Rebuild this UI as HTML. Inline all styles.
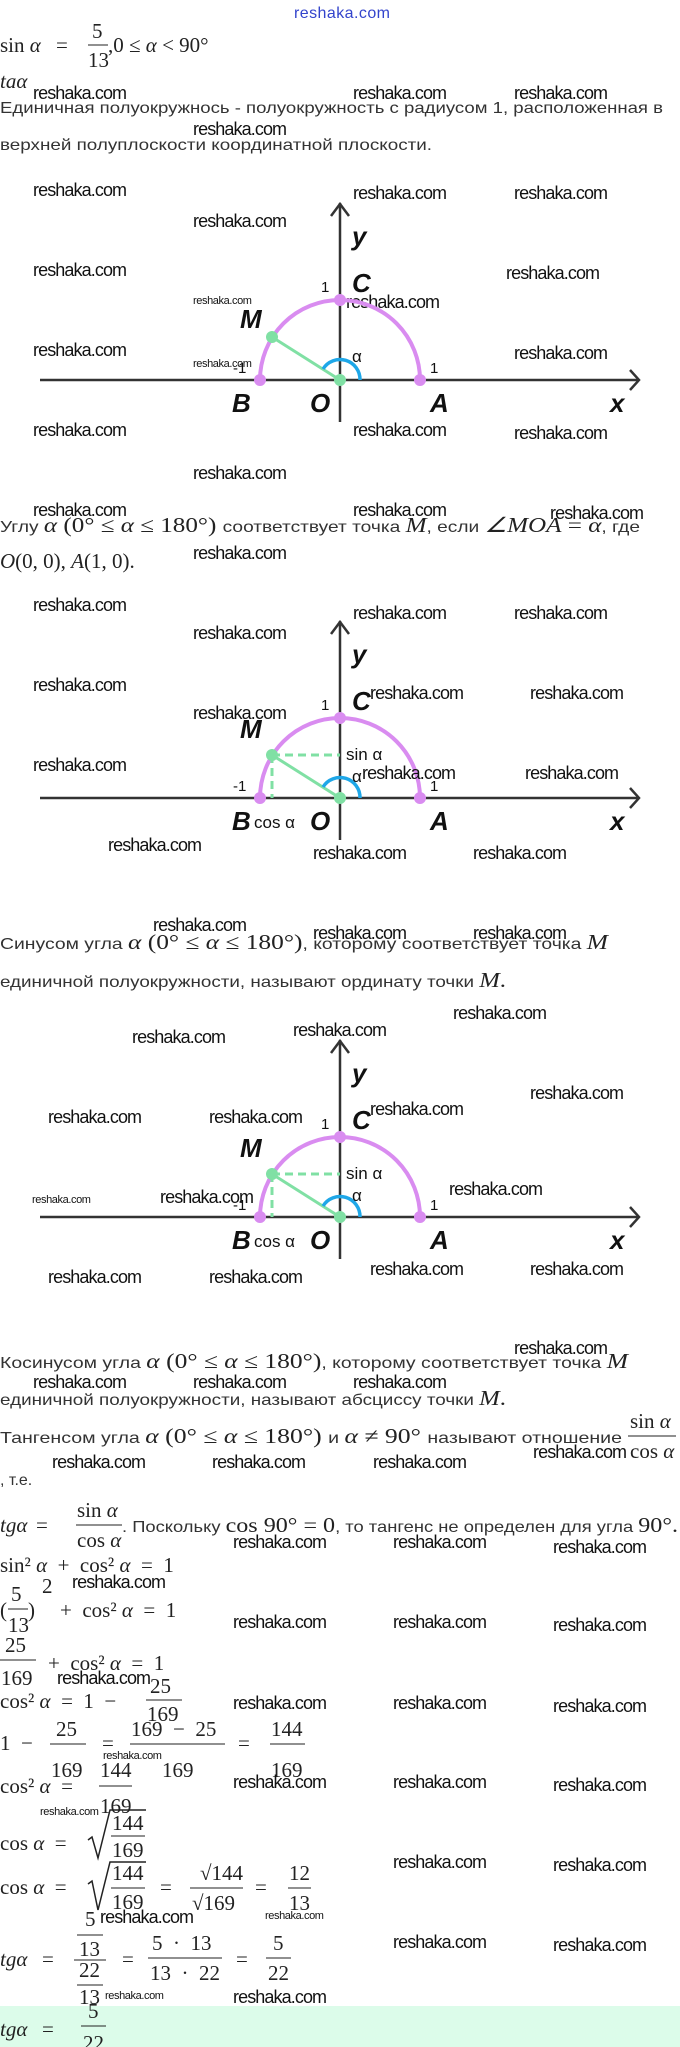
<!DOCTYPE html>
<html><head><meta charset="utf-8"><style>
html,body{margin:0;padding:0;background:#fff;width:680px;height:2047px;overflow:hidden}
svg{display:block}
.w{font-family:"Liberation Sans",sans-serif;font-size:18px;fill:#111;letter-spacing:-0.9px}
.ws{font-family:"Liberation Sans",sans-serif;font-size:11px;fill:#111;letter-spacing:-0.4px}
.t{font-family:"Liberation Sans",sans-serif;font-size:16px;fill:#333}
.m{font-family:"Liberation Serif",serif;font-size:21px;fill:#222}
.i{font-style:italic}
.L{font-family:"Liberation Sans",sans-serif;font-style:italic;font-weight:bold;font-size:26px;fill:#111}
.n{font-family:"Liberation Sans",sans-serif;font-size:15px;fill:#111}
.s{font-family:"Liberation Sans",sans-serif;font-size:17px;fill:#111}
</style></head><body>
<svg width="680" height="2047" viewBox="0 0 680 2047" xmlns="http://www.w3.org/2000/svg">
<rect x="0" y="2006" width="680" height="41" fill="#dcfcea"/>
<text x="294" y="18" font-family="Liberation Sans,sans-serif" font-size="16" fill="#3344cc" textLength="96">reshaka.com</text>

<text class="m" x="0" y="52">sin <tspan class="i">α</tspan></text>
<text class="m" x="56" y="52">=</text>
<text class="m" x="92" y="38">5</text><line x1="88" y1="45" x2="108" y2="45" stroke="#222"/><text class="m" x="88" y="67">13</text>
<text class="m" x="108" y="52">,0 ≤  <tspan class="i">α</tspan>  &lt;  90°</text>
<text class="m i" x="0" y="88">taα</text>

<text class="t" x="0" y="113" textLength="663" lengthAdjust="spacingAndGlyphs">Единичная полуокружнось - полуокружность с радиусом 1, расположенная в</text>
<text class="t" x="0" y="150" textLength="432" lengthAdjust="spacingAndGlyphs">верхней полуплоскости координатной плоскости.</text>

<g>
<text class="w" x="33" y="99">reshaka.com</text><text class="w" x="353" y="99">reshaka.com</text><text class="w" x="514" y="99">reshaka.com</text>
<text class="w" x="193" y="135">reshaka.com</text>
<text class="w" x="33" y="196">reshaka.com</text><text class="w" x="353" y="199">reshaka.com</text><text class="w" x="514" y="199">reshaka.com</text>
<text class="w" x="193" y="227">reshaka.com</text>
<text class="w" x="33" y="276">reshaka.com</text><text class="w" x="506" y="279">reshaka.com</text>
<text class="ws" x="193" y="304">reshaka.com</text><text class="w" x="346" y="308">reshaka.com</text>
<text class="w" x="33" y="356">reshaka.com</text><text class="w" x="514" y="359">reshaka.com</text>
<text class="ws" x="193" y="367">reshaka.com</text>
<text class="w" x="33" y="436">reshaka.com</text><text class="w" x="353" y="436">reshaka.com</text><text class="w" x="514" y="439">reshaka.com</text>
<text class="w" x="193" y="479">reshaka.com</text>
</g>

<g>
<line x1="340" y1="203" x2="340" y2="422" stroke="#333" stroke-width="2.5"/>
<polyline points="331,216 340,204 349,216" fill="none" stroke="#333" stroke-width="2.5"/>
<line x1="40" y1="380" x2="639" y2="380" stroke="#333" stroke-width="2.5"/>
<polyline points="630,370 639,380 630,390" fill="none" stroke="#333" stroke-width="2.5"/>
<path d="M260,380 A80,80 0 0 1 420,380" fill="none" stroke="#d98cf0" stroke-width="4"/>
<line x1="340" y1="380" x2="272" y2="337" stroke="#80e0a4" stroke-width="3"/>
<path d="M360,380 A20,20 0 0 0 323,369" fill="none" stroke="#1ea7e8" stroke-width="3.5"/>
<circle cx="260" cy="380" r="6" fill="#d98cf0"/><circle cx="420" cy="380" r="6" fill="#d98cf0"/><circle cx="340" cy="300" r="6" fill="#d98cf0"/>
<circle cx="272" cy="337" r="6" fill="#80e0a4"/><circle cx="340" cy="380" r="6" fill="#80e0a4"/>
<text class="L" x="352" y="245">y</text><text class="L" x="352" y="292">C</text><text class="n" x="321" y="292">1</text>
<text class="L" x="240" y="328">M</text><text class="n" x="233" y="373">-1</text><text class="n" x="430" y="373">1</text>
<text class="s" x="352" y="362">α</text>
<text class="L" x="232" y="412">B</text><text class="L" x="310" y="412">O</text><text class="L" x="430" y="412">A</text><text class="L" x="610" y="412">x</text>
</g>

<text x="0" y="532" textLength="640" lengthAdjust="spacingAndGlyphs"><tspan class="t">Углу </tspan><tspan class="m i">α</tspan><tspan class="m"> (0°  ≤  </tspan><tspan class="m i">α</tspan><tspan class="m">  ≤  180°) </tspan><tspan class="t">соответствует точка </tspan><tspan class="m i">M</tspan><tspan class="t">, если </tspan><tspan class="m i">∠MOA</tspan><tspan class="m">  =  </tspan><tspan class="m i">α</tspan><tspan class="t">, где</tspan></text>
<text class="m" x="0" y="568"><tspan class="i">O</tspan>(0, 0), <tspan class="i">A</tspan>(1, 0).</text>
<text class="w" x="33" y="516">reshaka.com</text><text class="w" x="353" y="516">reshaka.com</text><text class="w" x="550" y="519">reshaka.com</text>
<text class="w" x="193" y="559">reshaka.com</text>

<g transform="translate(0,418)">
<line x1="340" y1="203" x2="340" y2="422" stroke="#333" stroke-width="2.5"/>
<polyline points="331,216 340,204 349,216" fill="none" stroke="#333" stroke-width="2.5"/>
<line x1="40" y1="380" x2="639" y2="380" stroke="#333" stroke-width="2.5"/>
<polyline points="630,370 639,380 630,390" fill="none" stroke="#333" stroke-width="2.5"/>
<path d="M260,380 A80,80 0 0 1 420,380" fill="none" stroke="#d98cf0" stroke-width="4"/>
<line x1="272" y1="337" x2="340" y2="337" stroke="#80e0a4" stroke-width="3" stroke-dasharray="8,5"/>
<line x1="272" y1="337" x2="272" y2="380" stroke="#80e0a4" stroke-width="3" stroke-dasharray="8,5"/>
<line x1="340" y1="380" x2="272" y2="337" stroke="#80e0a4" stroke-width="3"/>
<path d="M360,380 A20,20 0 0 0 323,369" fill="none" stroke="#1ea7e8" stroke-width="3.5"/>
<circle cx="260" cy="380" r="6" fill="#d98cf0"/><circle cx="420" cy="380" r="6" fill="#d98cf0"/><circle cx="340" cy="300" r="6" fill="#d98cf0"/>
<circle cx="272" cy="337" r="6" fill="#80e0a4"/><circle cx="340" cy="380" r="6" fill="#80e0a4"/>
<text class="L" x="352" y="245">y</text><text class="L" x="352" y="292">C</text><text class="n" x="321" y="292">1</text>
<text class="L" x="240" y="320">M</text><text class="n" x="233" y="373">-1</text><text class="n" x="430" y="373">1</text>
<text class="s" x="346" y="342">sin α</text><text class="s" x="352" y="364">α</text>
<text class="L" x="232" y="412">B</text><text class="s" x="254" y="410">cos α</text><text class="L" x="310" y="412">O</text><text class="L" x="430" y="412">A</text><text class="L" x="610" y="412">x</text>
</g>
<text class="w" x="33" y="611">reshaka.com</text><text class="w" x="353" y="619">reshaka.com</text><text class="w" x="514" y="619">reshaka.com</text>
<text class="w" x="193" y="639">reshaka.com</text>
<text class="w" x="33" y="691">reshaka.com</text><text class="w" x="370" y="699">reshaka.com</text><text class="w" x="530" y="699">reshaka.com</text>
<text class="w" x="193" y="719">reshaka.com</text>
<text class="w" x="33" y="771">reshaka.com</text><text class="w" x="362" y="779">reshaka.com</text><text class="w" x="525" y="779">reshaka.com</text>
<text class="w" x="108" y="851">reshaka.com</text><text class="w" x="313" y="859">reshaka.com</text><text class="w" x="473" y="859">reshaka.com</text>

<text x="0" y="949" textLength="608" lengthAdjust="spacingAndGlyphs"><tspan class="t">Синусом угла </tspan><tspan class="m i">α</tspan><tspan class="m"> (0°  ≤  </tspan><tspan class="m i">α</tspan><tspan class="m">  ≤  180°)</tspan><tspan class="t">, которому соответствует точка </tspan><tspan class="m i">M</tspan></text>
<text x="0" y="987" textLength="506" lengthAdjust="spacingAndGlyphs"><tspan class="t">единичной полуокружности, называют ординату точки </tspan><tspan class="m i">M</tspan><tspan class="m">.</tspan></text>
<text class="w" x="153" y="931">reshaka.com</text><text class="w" x="313" y="939">reshaka.com</text><text class="w" x="473" y="939">reshaka.com</text>

<g transform="translate(0,837)">
<line x1="340" y1="203" x2="340" y2="422" stroke="#333" stroke-width="2.5"/>
<polyline points="331,216 340,204 349,216" fill="none" stroke="#333" stroke-width="2.5"/>
<line x1="40" y1="380" x2="639" y2="380" stroke="#333" stroke-width="2.5"/>
<polyline points="630,370 639,380 630,390" fill="none" stroke="#333" stroke-width="2.5"/>
<path d="M260,380 A80,80 0 0 1 420,380" fill="none" stroke="#d98cf0" stroke-width="4"/>
<line x1="272" y1="337" x2="340" y2="337" stroke="#80e0a4" stroke-width="3" stroke-dasharray="8,5"/>
<line x1="272" y1="337" x2="272" y2="380" stroke="#80e0a4" stroke-width="3" stroke-dasharray="8,5"/>
<line x1="340" y1="380" x2="272" y2="337" stroke="#80e0a4" stroke-width="3"/>
<path d="M360,380 A20,20 0 0 0 323,369" fill="none" stroke="#1ea7e8" stroke-width="3.5"/>
<circle cx="260" cy="380" r="6" fill="#d98cf0"/><circle cx="420" cy="380" r="6" fill="#d98cf0"/><circle cx="340" cy="300" r="6" fill="#d98cf0"/>
<circle cx="272" cy="337" r="6" fill="#80e0a4"/><circle cx="340" cy="380" r="6" fill="#80e0a4"/>
<text class="L" x="352" y="245">y</text><text class="L" x="352" y="292">C</text><text class="n" x="321" y="292">1</text>
<text class="L" x="240" y="320">M</text><text class="n" x="233" y="373">-1</text><text class="n" x="430" y="373">1</text>
<text class="s" x="346" y="342">sin α</text><text class="s" x="352" y="364">α</text>
<text class="L" x="232" y="412">B</text><text class="s" x="254" y="410">cos α</text><text class="L" x="310" y="412">O</text><text class="L" x="430" y="412">A</text><text class="L" x="610" y="412">x</text>
</g>
<text class="w" x="453" y="1019">reshaka.com</text><text class="w" x="293" y="1036">reshaka.com</text><text class="w" x="132" y="1043">reshaka.com</text>
<text class="w" x="530" y="1099">reshaka.com</text><text class="w" x="370" y="1115">reshaka.com</text>
<text class="w" x="48" y="1123">reshaka.com</text><text class="w" x="209" y="1123">reshaka.com</text>
<text class="w" x="449" y="1195">reshaka.com</text><text class="ws" x="32" y="1203">reshaka.com</text><text class="w" x="160" y="1203">reshaka.com</text>
<text class="w" x="370" y="1275">reshaka.com</text><text class="w" x="530" y="1275">reshaka.com</text>
<text class="w" x="48" y="1283">reshaka.com</text><text class="w" x="209" y="1283">reshaka.com</text>

<text x="0" y="1368" textLength="628" lengthAdjust="spacingAndGlyphs"><tspan class="t">Косинусом угла </tspan><tspan class="m i">α</tspan><tspan class="m"> (0°  ≤  </tspan><tspan class="m i">α</tspan><tspan class="m">  ≤  180°)</tspan><tspan class="t">, которому соответствует точка </tspan><tspan class="m i">M</tspan></text>
<text x="0" y="1405" textLength="506" lengthAdjust="spacingAndGlyphs"><tspan class="t">единичной полуокружности, называют абсциссу точки </tspan><tspan class="m i">M</tspan><tspan class="m">.</tspan></text>
<text class="w" x="514" y="1354">reshaka.com</text>
<text class="w" x="33" y="1388">reshaka.com</text><text class="w" x="193" y="1388">reshaka.com</text><text class="w" x="353" y="1388">reshaka.com</text>

<text x="0" y="1443" textLength="622" lengthAdjust="spacingAndGlyphs"><tspan class="t">Тангенсом угла </tspan><tspan class="m i">α</tspan><tspan class="m"> (0°  ≤  </tspan><tspan class="m i">α</tspan><tspan class="m">  ≤  180°) </tspan><tspan class="t">и </tspan><tspan class="m i">α</tspan><tspan class="m">  ≠  90° </tspan><tspan class="t">называют отношение</tspan></text>
<text class="m" x="630" y="1428">sin <tspan class="i">α</tspan></text><line x1="628" y1="1436" x2="676" y2="1436" stroke="#222"/>
<text class="m" x="630" y="1458">cos <tspan class="i">α</tspan></text>
<text class="w" x="533" y="1458">reshaka.com</text>
<text class="w" x="52" y="1468">reshaka.com</text><text class="w" x="212" y="1468">reshaka.com</text><text class="w" x="373" y="1468">reshaka.com</text>
<text class="t" x="0" y="1485">, т.е.</text>

<text class="m i" x="0" y="1532">tgα</text><text class="m" x="36" y="1532">=</text>
<text class="m" x="77" y="1517">sin <tspan class="i">α</tspan></text><line x1="76" y1="1525" x2="122" y2="1525" stroke="#222"/>
<text class="m" x="77" y="1547">cos <tspan class="i">α</tspan></text>
<text x="122" y="1532" textLength="556" lengthAdjust="spacingAndGlyphs"><tspan class="t">. Поскольку </tspan><tspan class="m">cos 90°  =  0</tspan><tspan class="t">, то тангенс не определен для угла </tspan><tspan class="m">90°.</tspan></text>
<text class="w" x="233" y="1548">reshaka.com</text><text class="w" x="393" y="1548">reshaka.com</text><text class="w" x="553" y="1553">reshaka.com</text>

<text class="m" x="0" y="1572" xml:space="preserve">sin² <tspan class="i">α</tspan>  +  cos² <tspan class="i">α</tspan>  =  1</text>
<text class="w" x="72" y="1588">reshaka.com</text>

<text class="m" x="0" y="1617">(</text><text class="m" x="11" y="1601">5</text><line x1="8" y1="1609" x2="28" y2="1609" stroke="#222"/><text class="m" x="8" y="1632">13</text>
<text class="m" x="28" y="1617">)</text><text class="m" x="42" y="1593" font-size="13">2</text>
<text class="m" x="60" y="1617" xml:space="preserve">+  cos² <tspan class="i">α</tspan>  =  1</text>
<text class="w" x="233" y="1628">reshaka.com</text><text class="w" x="393" y="1628">reshaka.com</text><text class="w" x="553" y="1631">reshaka.com</text>

<text class="m" x="5" y="1652">25</text><line x1="0" y1="1660" x2="36" y2="1660" stroke="#222"/><text class="m" x="1" y="1685">169</text>
<text class="m" x="48" y="1670" xml:space="preserve">+  cos² <tspan class="i">α</tspan>  =  1</text>
<text class="w" x="57" y="1684">reshaka.com</text>

<text class="m" x="0" y="1708" xml:space="preserve">cos² <tspan class="i">α</tspan>  =  1  −</text>
<text class="m" x="150" y="1693">25</text><line x1="146" y1="1700" x2="182" y2="1700" stroke="#222"/><text class="m" x="147" y="1721">169</text>
<text class="w" x="233" y="1709">reshaka.com</text><text class="w" x="393" y="1709">reshaka.com</text><text class="w" x="553" y="1712">reshaka.com</text>

<text class="m" x="0" y="1750" xml:space="preserve">1  −</text>
<text class="m" x="56" y="1736">25</text><line x1="50" y1="1744" x2="86" y2="1744" stroke="#222"/><text class="m" x="51" y="1777">169</text>
<text class="m" x="102" y="1750">=</text>
<text class="m" x="131" y="1736" xml:space="preserve">169  −  25</text><line x1="130" y1="1744" x2="225" y2="1744" stroke="#222"/><text class="m" x="162" y="1777">169</text>
<text class="m" x="238" y="1750">=</text>
<text class="m" x="271" y="1736">144</text><line x1="270" y1="1744" x2="305" y2="1744" stroke="#222"/><text class="m" x="271" y="1777">169</text>
<text class="ws" x="103" y="1759">reshaka.com</text>

<text class="m" x="0" y="1793" xml:space="preserve">cos² <tspan class="i">α</tspan>  =</text>
<text class="m" x="100" y="1777">144</text><line x1="99" y1="1786" x2="132" y2="1786" stroke="#222"/><text class="m" x="100" y="1813">169</text>
<text class="w" x="233" y="1788">reshaka.com</text><text class="w" x="393" y="1788">reshaka.com</text><text class="w" x="553" y="1791">reshaka.com</text>
<text class="ws" x="40" y="1815">reshaka.com</text>

<text class="m" x="0" y="1850" xml:space="preserve">cos <tspan class="i">α</tspan>  =</text>
<polyline points="88,1840 92,1837 98,1858 110,1810 146,1810" fill="none" stroke="#222" stroke-width="1.5"/>
<text class="m" x="112" y="1830">144</text><line x1="111" y1="1836" x2="145" y2="1836" stroke="#222"/><text class="m" x="112" y="1857">169</text>

<text class="m" x="0" y="1894" xml:space="preserve">cos <tspan class="i">α</tspan>  =</text>
<polyline points="88,1884 92,1881 98,1910 110,1862 146,1862" fill="none" stroke="#222" stroke-width="1.5"/>
<text class="m" x="112" y="1880">144</text><line x1="111" y1="1888" x2="145" y2="1888" stroke="#222"/><text class="m" x="112" y="1909">169</text>
<text class="m" x="160" y="1894">=</text>
<text class="m" x="200" y="1880">√144</text><line x1="190" y1="1888" x2="243" y2="1888" stroke="#222"/><text class="m" x="192" y="1910">√169</text>
<text class="m" x="255" y="1894">=</text>
<text class="m" x="289" y="1880">12</text><line x1="288" y1="1888" x2="311" y2="1888" stroke="#222"/><text class="m" x="289" y="1910">13</text>
<text class="w" x="393" y="1868">reshaka.com</text><text class="w" x="553" y="1871">reshaka.com</text>

<text class="m" x="85" y="1926">5</text><line x1="77" y1="1935" x2="103" y2="1935" stroke="#222"/>
<text class="m" x="79" y="1956">13</text><line x1="74" y1="1960" x2="106" y2="1960" stroke="#222"/>
<text class="m" x="79" y="1977">22</text><line x1="77" y1="1985" x2="103" y2="1985" stroke="#222"/>
<text class="m" x="79" y="2004">13</text>
<text class="w" x="100" y="1923">reshaka.com</text><text class="ws" x="265" y="1919">reshaka.com</text>
<text class="m i" x="0" y="1966">tgα</text><text class="m" x="42" y="1966">=</text>
<text class="m" x="122" y="1966">=</text>
<text class="m" x="152" y="1950" xml:space="preserve">5  ·  13</text><line x1="148" y1="1958" x2="222" y2="1958" stroke="#222"/><text class="m" x="150" y="1980" xml:space="preserve">13  ·  22</text>
<text class="m" x="236" y="1966">=</text>
<text class="m" x="273" y="1950">5</text><line x1="266" y1="1958" x2="291" y2="1958" stroke="#222"/><text class="m" x="268" y="1980">22</text>
<text class="w" x="393" y="1948">reshaka.com</text><text class="w" x="553" y="1951">reshaka.com</text>
<text class="ws" x="105" y="1999">reshaka.com</text><text class="w" x="233" y="2003">reshaka.com</text>

<text class="m i" x="0" y="2036">tgα</text><text class="m" x="42" y="2036">=</text>
<text class="m" x="88" y="2018">5</text><line x1="81" y1="2026" x2="106" y2="2026" stroke="#222"/><text class="m" x="83" y="2050">22</text>
</svg>
</body></html>
